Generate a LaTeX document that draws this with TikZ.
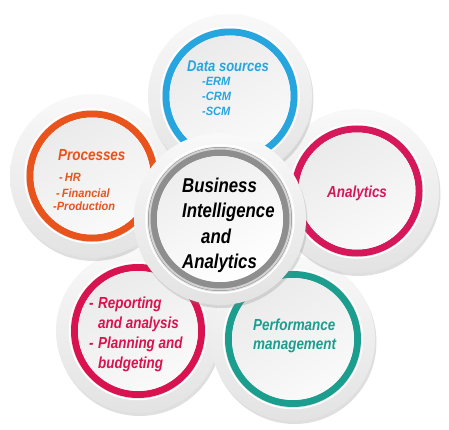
\documentclass[tikz,border=0pt]{standalone}
\usepackage{fontspec}
\newfontfamily\hfont{Liberation Sans}[FakeStretch=0.84]
\newfontfamily\sfont{Liberation Sans}[FakeStretch=0.92]
\usetikzlibrary{shadows}
\definecolor{cblue}{HTML}{27A5DE}
\definecolor{corange}{HTML}{E9541C}
\definecolor{cred}{HTML}{D6175A}
\definecolor{cpink}{HTML}{D8134F}
\definecolor{cteal}{HTML}{1B9E8E}
\definecolor{cgrey}{HTML}{8E8E8E}
\begin{document}
\begin{tikzpicture}[x=1pt,y=-1pt,
  outerdisc/.style={circle, draw=none, inner sep=0pt, minimum size=164pt,
    top color=gray!5, bottom color=gray!22,
    drop shadow={opacity=0.25, shadow xshift=1.5pt, shadow yshift=-3pt}},
  centerdisc/.style={outerdisc, minimum size=172pt},
  ringline/.style={line width=7pt},
  highlight/.style={draw=white, line width=1.5pt},
  innerfill/.style={left color=gray!16, right color=gray!4, shading angle=30},
  head/.style={anchor=base west, inner sep=0pt, font=\hfont\bfseries\itshape\fontsize{16}{18}\selectfont},
  sub/.style={anchor=base west, inner sep=0pt, font=\sfont\bfseries\itshape\fontsize{12}{14}\selectfont},
  big/.style={anchor=base west, inner sep=0pt, font=\hfont\bfseries\itshape\fontsize{20}{24}\selectfont}
]
\useasboundingbox (0,0) rectangle (449,430);

% Reporting
\node[outerdisc] (rp) at (138,331) {};
\draw[highlight] (rp.center) circle (68.5);
\draw[ringline, cpink] (rp.center) circle (63.5);
\shade[innerfill] (rp.center) circle (60);

% Performance
\node[outerdisc] (pm) at (293,339) {};
\draw[highlight] (pm.center) circle (69.5);
\draw[ringline, cteal] (pm.center) circle (64.5);
\shade[innerfill] (pm.center) circle (61);

% Analytics
\node[outerdisc] (an) at (357,191) {};
\draw[highlight] (an.center) circle (67);
\draw[ringline, cred] (an.center) circle (62);
\shade[innerfill] (an.center) circle (58.5);

% Processes
\node[outerdisc] (pr) at (92,176) {};
\draw[highlight] (pr.center) circle (67);
\draw[ringline, corange] (pr.center) circle (62);
\shade[innerfill] (pr.center) circle (58.5);

% Data sources
\node[outerdisc] (ds) at (230,96) {};
\draw[highlight] (ds.center) circle (69);
\draw[ringline, cblue] (ds.center) circle (64);
\shade[innerfill] (ds.center) circle (60.5);

% Center
\node[centerdisc] (bi) at (220,219) {};
\draw[highlight] (bi.center) circle (74);
\draw[line width=9pt, cgrey] (bi.center) circle (67.5);
\draw[line width=2pt, gray!35] (bi.center) circle (70.5);
\shade[left color=gray!14, right color=white, shading angle=30] (bi.center) circle (63);

% Texts
\node[head, text=cblue, font=\hfont\bfseries\itshape\fontsize{15.5}{18}\selectfont] (t1) at (187,72) {Data sources};
\node[sub, text=cblue] (t1a) at (202,86) {-ERM};
\node[sub, text=cblue] (t1b) at (202,101) {-CRM};
\node[sub, text=cblue] (t1c) at (202,116) {-SCM};

\node[head, text=corange] (t2) at (58,161) {Processes};
\node[sub, text=corange] (t2a) at (59,182) {-\,HR};
\node[sub, text=corange] (t2b) at (56,197) {-\,Financial};
\node[sub, text=corange] (t2c) at (53,211) {-Production};

\node[head, text=cred] (t3) at (327,197) {Analytics};

\node[head, text=cpink] (t4d1) at (89,308) {-};
\node[head, text=cpink] (t4a) at (98,308) {Reporting};
\node[head, text=cpink] (t4b) at (98,328) {and analysis};
\node[head, text=cpink] (t4d2) at (89,348) {-};
\node[head, text=cpink] (t4c) at (98,348) {Planning and};
\node[head, text=cpink] (t4e) at (98,368) {budgeting};

\node[head, text=cteal] (t5a) at (253,330) {Performance};
\node[head, text=cteal] (t5b) at (253,349) {management};

\node[big] (c1) at (182,193) {Business};
\node[big] (c2) at (182,218) {Intelligence};
\node[big] (c3) at (201,243) {and};
\node[big] (c4) at (182,268) {Analytics};
\end{tikzpicture}
\end{document}
